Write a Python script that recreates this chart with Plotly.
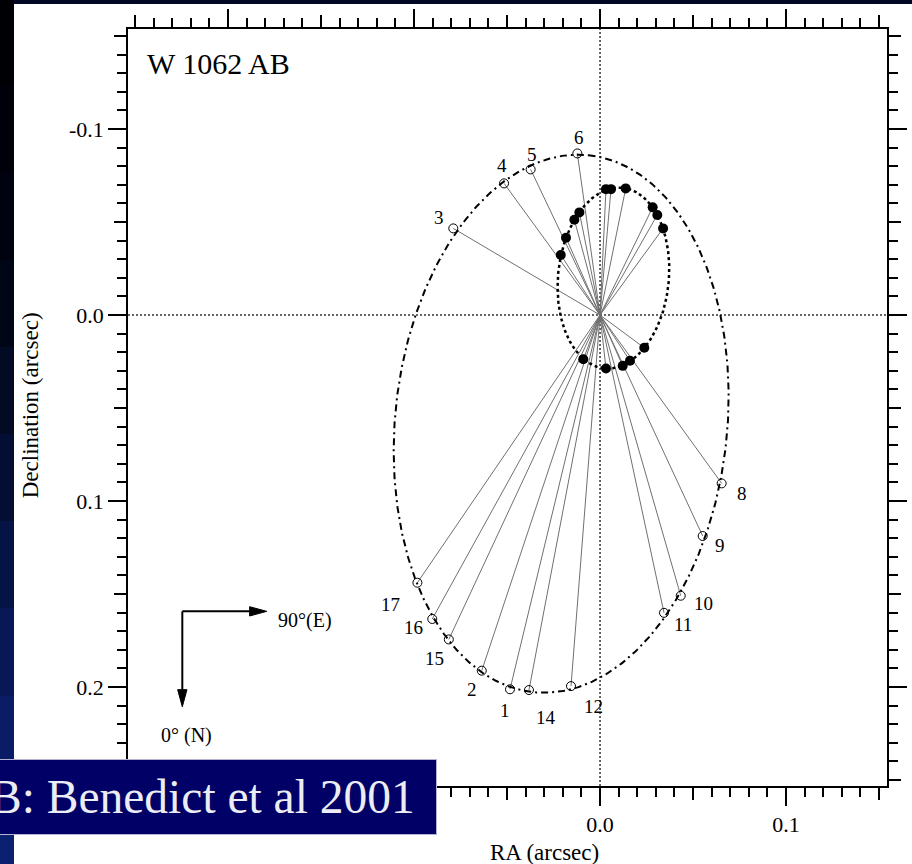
import numpy as np
import plotly.graph_objects as go

# ---------------------------------------------------------------
# Wolf 1062 AB: relative orbit of B (open circles, numbered epochs)
# and the photocentre orbit (filled dots). Offsets in arcsec.
# ---------------------------------------------------------------
obs_labels = ["1", "2", "3", "4", "5", "6", "8", "9", "10", "11", "12", "14", "15", "16", "17"]
obs_ra = [-0.0484, -0.0636, -0.0789, -0.0516, -0.0373, -0.0122, 0.0654, 0.0552,
          0.0434, 0.0344, -0.0156, -0.0382, -0.0813, -0.0902, -0.0982]
obs_dec = [0.2012, 0.1912, -0.0466, -0.0708, -0.0783, -0.0869, 0.0905, 0.1188,
           0.1509, 0.1601, 0.1995, 0.2016, 0.1744, 0.1634, 0.1439]

pc_ra = [0.0032, 0.0059, 0.0138, 0.0283, 0.0308, 0.0339, -0.0111, -0.0138,
         -0.0183, -0.0211, 0.0238, 0.0161, 0.0122, 0.0032, -0.0090]
pc_dec = [-0.0677, -0.0677, -0.0681, -0.0579, -0.0538, -0.0466, -0.0552, -0.0512,
          -0.0416, -0.0323, 0.0176, 0.0246, 0.0273, 0.0287, 0.0238]

# apparent orbit ellipses: centre RA, centre Dec, semi-major, semi-minor, tilt (deg)
rel_orbit = (-0.0209, 0.0584, 0.1451, 0.0893, -84.17)
pc_orbit = (0.0072, -0.0199, 0.0488, 0.0298, -84.37)

# the two leftmost RA labels sit under the citation banner
x_major = [-0.2, -0.1, 0.0, 0.1]
x_major_text = ["", "", "0.0", "0.1"]
x_mid = [-0.25, -0.15, -0.05, 0.05, 0.15]
y_major = [-0.1, 0.0, 0.1, 0.2]
y_major_text = ["-0.1", "0.0", "0.1", "0.2"]
y_mid = [-0.15, -0.05, 0.05, 0.15, 0.25]

X_RANGE = [-0.2538, 0.1543]
Y_RANGE = [0.2532, -0.1538]

SERIF = "Liberation Serif, Times New Roman, serif"

# pixel offsets (right, down) of each epoch number from its circle
label_offsets = {"1": (-5, 21), "2": (-10, 19), "3": (-14, -11), "4": (-2, -18),
                 "5": (1, -15), "6": (2, -16), "8": (20, 10), "9": (17, 9),
                 "10": (23, 8), "11": (19, 12), "12": (22, 20), "14": (17, 27),
                 "15": (-14, 19), "16": (-19, 9), "17": (-27, 22)}


def ellipse_xy(params, n=600):
    x0, y0, a, b, tilt = params
    t = np.linspace(0, 2 * np.pi, n)
    th = np.radians(tilt)
    u, v = a * np.cos(t), b * np.sin(t)
    return x0 + u * np.cos(th) - v * np.sin(th), y0 + u * np.sin(th) + v * np.cos(th)


def spokes(xs, ys):
    sx, sy = [], []
    for x, y in zip(xs, ys):
        sx += [0, x, None]
        sy += [0, y, None]
    return sx, sy


fig = go.Figure()

# spokes from the primary to every measured position
sx, sy = spokes(obs_ra + pc_ra, obs_dec + pc_dec)
fig.add_trace(go.Scatter(x=sx, y=sy, mode="lines",
                         line=dict(color="#707070", width=1), hoverinfo="skip"))

ox, oy = ellipse_xy(rel_orbit)
fig.add_trace(go.Scatter(x=ox, y=oy, mode="lines",
                         line=dict(color="black", width=2, dash="7px,4px,2px,4px"),
                         hoverinfo="skip"))
ix, iy = ellipse_xy(pc_orbit)
fig.add_trace(go.Scatter(x=ix, y=iy, mode="lines",
                         line=dict(color="black", width=2.5, dash="3px,3px"),
                         hoverinfo="skip"))

fig.add_trace(go.Scatter(x=obs_ra, y=obs_dec, mode="markers",
                         marker=dict(symbol="circle-open", size=9, color="black",
                                     line=dict(width=1))))
fig.add_trace(go.Scatter(x=pc_ra, y=pc_dec, mode="markers",
                         marker=dict(symbol="circle", size=10, color="black")))

# carrier for the mid-length tick axes
fig.add_trace(go.Scatter(x=[None], y=[None], xaxis="x2", yaxis="y2",
                         mode="markers", showlegend=False))

for lab, x, y in zip(obs_labels, obs_ra, obs_dec):
    dx, dy = label_offsets[lab]
    fig.add_annotation(x=x, y=y, text=lab, showarrow=False, xshift=dx, yshift=-dy,
                       font=dict(family=SERIF, size=19, color="black"))

# ---------------- layout decoration ----------------
shapes = []
# slide background strip on the left
strip = ["#000004", "#000108", "#00030f", "#010617", "#020a24", "#040e34",
         "#061345", "#081856", "#0a1c66", "#0c2070"]
for k, c in enumerate(strip):
    shapes.append(dict(type="rect", xref="paper", yref="paper", layer="below",
                       x0=-0.2, x1=-0.1502, y0=1.04 - (k + 1) * 0.115, y1=1.04 - k * 0.115,
                       fillcolor=c, line=dict(width=0)))
shapes.append(dict(type="rect", xref="paper", yref="paper", layer="below",
                   x0=-0.1502, x1=1.05, y0=-0.11, y1=1.0330,
                   fillcolor="white", line=dict(width=0)))
# dotted reference lines through the primary
shapes.append(dict(type="line", xref="x", yref="paper", x0=0, x1=0, y0=0, y1=1,
                   layer="below", line=dict(color="#333333", width=1.5, dash="2px,2px")))
shapes.append(dict(type="line", xref="paper", yref="y", x0=0, x1=1, y0=0, y1=0,
                   layer="below", line=dict(color="#333333", width=1.5, dash="2px,2px")))

# compass
cx, cy = -0.2246, 0.1593
e_tip, n_tip = -0.1792, 0.2106
hl, hw = 0.0092, 0.0025
shapes.append(dict(type="line", xref="x", yref="y", x0=cx, y0=cy, x1=e_tip - hl, y1=cy,
                   line=dict(color="black", width=2)))
shapes.append(dict(type="line", xref="x", yref="y", x0=cx, y0=cy, x1=cx, y1=n_tip - hl,
                   line=dict(color="black", width=2)))
shapes.append(dict(type="path", xref="x", yref="y",
                   path=f"M {e_tip},{cy} L {e_tip - hl},{cy - hw} L {e_tip - hl},{cy + hw} Z",
                   fillcolor="black", line=dict(color="black", width=1)))
shapes.append(dict(type="path", xref="x", yref="y",
                   path=f"M {cx},{n_tip} L {cx - hw},{n_tip - hl} L {cx + hw},{n_tip - hl} Z",
                   fillcolor="black", line=dict(color="black", width=1)))

annotations = [
    dict(text="90°(E)", x=-0.1742, y=0.1640, xref="x", yref="y", xanchor="left",
         yanchor="middle", showarrow=False, font=dict(family=SERIF, size=20, color="black")),
    dict(text="0° (N)", x=-0.2223, y=0.2262, xref="x", yref="y", xanchor="center",
         yanchor="middle", showarrow=False, font=dict(family=SERIF, size=20, color="black")),
    dict(text="W 1062 AB", x=0.0224, y=0.955, xref="paper", yref="paper", xanchor="left",
         yanchor="middle", showarrow=False, font=dict(family=SERIF, size=30, color="black")),
    dict(text="RA (arcsec)", x=0.5494, y=-0.0885, xref="paper", yref="paper",
         xanchor="center", yanchor="middle", showarrow=False,
         font=dict(family=SERIF, size=23, color="black")),
    dict(text="Declination (arcsec)", x=-0.1291, y=0.503, xref="paper", yref="paper",
         xanchor="center", yanchor="middle", textangle=-90, showarrow=False,
         font=dict(family=SERIF, size=23, color="black")),
    dict(text="B: Benedict et al 2001", x=-0.18577, y=-0.01453, xref="paper", yref="paper",
         xanchor="left", yanchor="middle", showarrow=False, align="left",
         width=444, height=70, bgcolor="#000066", bordercolor="#b4b4d2",
         borderwidth=1, borderpad=2,
         font=dict(family=SERIF, size=47.5, color="#ececf4")),
]
for a in annotations:
    fig.add_annotation(**a)

axis_common = dict(showgrid=False, zeroline=False, showline=True, linecolor="black",
                   linewidth=1.5, ticks="outside", tickcolor="black", tickwidth=1.5,
                   ticklen=18, mirror="ticks", tickmode="array", automargin=False,
                   tickfont=dict(family=SERIF, size=22, color="black"),
                   minor=dict(ticks="outside", dtick=0.01, tick0=0, ticklen=9,
                              tickwidth=1.5, tickcolor="black", showgrid=False))
mid_common = dict(showgrid=False, zeroline=False, showline=False, ticks="outside",
                  tickcolor="black", tickwidth=1.5, ticklen=13, mirror="ticks",
                  tickmode="array", showticklabels=False, automargin=False)

fig.update_layout(
    width=912, height=864,
    margin=dict(l=128, r=25, t=29, b=78, autoexpand=False),
    paper_bgcolor="#000824", plot_bgcolor="white",
    showlegend=False,
    xaxis=dict(range=X_RANGE, tickvals=x_major, ticktext=x_major_text, **axis_common),
    yaxis=dict(range=Y_RANGE, tickvals=y_major, ticktext=y_major_text, **axis_common),
    xaxis2=dict(range=X_RANGE, overlaying="x", side="bottom", anchor="y2",
                tickvals=x_mid, **mid_common),
    yaxis2=dict(range=Y_RANGE, overlaying="y", side="left", anchor="x2",
                tickvals=y_mid, **mid_common),
    shapes=shapes,
)

fig.write_html("out.html")
